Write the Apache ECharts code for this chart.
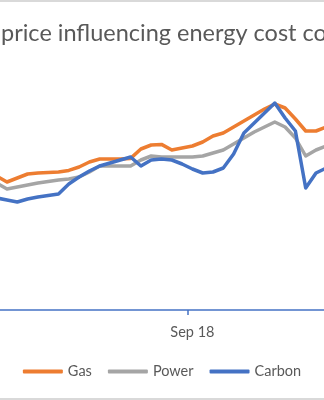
<!DOCTYPE html>
<html>
<head>
<meta charset="utf-8">
<script src="https://cdn.jsdelivr.net/npm/echarts@6/dist/echarts.min.js"></script>
<style>
  html, body { margin: 0; padding: 0; background: #fff; }
  #wrap { position: relative; width: 324px; height: 400px; overflow: hidden; }
  #chart { position: absolute; left: 0; top: 0; width: 324px; height: 400px; }
  .edge { position: absolute; left: 0; width: 324px; height: 2px; background: #d9d9d9; }
</style>
</head>
<body>
<div id="wrap">
  <div id="chart"></div>
  <div class="edge" style="top:0"></div>
  <div class="edge" style="bottom:0"></div>
</div>
<script>
// Weekly observations
const weeks = [
  '2018-04-23', '2018-04-30', '2018-05-07', '2018-05-14', '2018-05-21', '2018-05-28',
  '2018-06-04', '2018-06-11', '2018-06-18', '2018-06-25', '2018-07-02', '2018-07-09',
  '2018-07-16', '2018-07-23', '2018-07-30', '2018-08-06', '2018-08-13', '2018-08-20',
  '2018-08-27', '2018-09-03', '2018-09-10', '2018-09-17', '2018-09-24', '2018-10-01',
  '2018-10-08', '2018-10-15', '2018-10-22', '2018-10-29', '2018-11-05', '2018-11-12',
  '2018-11-19', '2018-11-26', '2018-12-03', '2018-12-10'
];

const gas = [
  67, 64, 66, 68, 68.5, 68.8, 69, 69.8, 71.5, 74, 75.5, 75.5,
  75.5, 75.8, 80.5, 82.5, 82.8, 80, 81, 82, 84, 87, 88.5, 91.5,
  94.5, 97.5, 100.5, 103, 101, 95.5, 89.5, 89.5, 91.5, 93
];

const power = [
  63.5, 60.5, 61.5, 62.5, 63.5, 64.3, 65, 65.5, 66.5, 69, 72, 72,
  72, 72, 75, 77, 76.5, 76.5, 76.5, 76.5, 77, 78.5, 80, 83,
  86, 89, 91.5, 94, 91.5, 86, 77, 80, 82, 82.5
];

const carbon = [
  56, 55, 54, 55.5, 56.5, 57.3, 58, 63, 66.5, 69.5, 72, 73.5,
  75, 76.5, 72, 75, 75.5, 75, 73, 70.5, 68.5, 69, 71, 78,
  88.5, 93.5, 98.5, 103.5, 96, 89.5, 61, 68.5, 71, 72
];

// Week that carries the axis label
const labelWeeks = ['2018-09-03'];
const monthNames = ['Jan', 'Feb', 'Mar', 'Apr', 'May', 'Jun', 'Jul', 'Aug', 'Sep', 'Oct', 'Nov', 'Dec'];

const titleText = 'Commodity price influencing energy cost components';
const titlePrefix = 'Commodity ';
const titleFont = 'Lato';

// Size the title font so the main phrase fills the visible width
const ctx = document.createElement('canvas').getContext('2d');
ctx.font = '20px ' + titleFont;
const phraseW = ctx.measureText('price influencing energy cost').width;
const titleSize = Math.round(20 * 296 / phraseW * 10) / 10;
ctx.font = titleSize + 'px ' + titleFont;
const prefixW = ctx.measureText(titlePrefix).width;

const labelIndex = weeks.indexOf(labelWeeks[0]);

const chart = echarts.init(document.getElementById('chart'), null, { renderer: 'canvas' });

const lineSeries = (name, data, color) => ({
  name: name,
  type: 'line',
  data: data,
  symbol: 'none',
  smooth: false,
  lineStyle: { color: color, width: 3.5, cap: 'round', join: 'round' },
  itemStyle: { color: color },
  emphasis: { disabled: true }
});

chart.setOption({
  animation: false,
  backgroundColor: 'transparent',
  title: {
    text: titleText,
    left: 1 - prefixW,
    top: 21,
    padding: 0,
    textStyle: { fontFamily: titleFont, fontSize: titleSize, fontWeight: 'normal', color: '#595959' }
  },
  legend: {
    data: ['Gas', 'Power', 'Carbon'],
    left: 'center',
    top: 359,
    icon: 'roundRect',
    itemWidth: 40,
    itemHeight: 4,
    itemGap: 16,
    textStyle: { fontFamily: 'Lato', fontSize: 14.5, color: '#595959' }
  },
  grid: {
    left: -8.45,
    right: -17.75,
    top: 60,
    bottom: 90,
    containLabel: false,
    outerBoundsMode: 'none'
  },
  xAxis: {
    type: 'category',
    data: weeks,
    boundaryGap: true,
    axisLine: { show: true, lineStyle: { color: '#4472C4', width: 1.5 } },
    axisTick: { show: true, length: 5, interval: labelIndex - 1, lineStyle: { color: '#4472C4', width: 1.5 } },
    axisLabel: {
      interval: (i) => i === labelIndex,
      margin: 15,
      fontFamily: 'Lato',
      fontSize: 14.5,
      color: '#595959',
      formatter: (v) => {
        const d = new Date(v + 'T00:00:00');
        return monthNames[d.getMonth()] + ' ' + String(d.getFullYear()).slice(2);
      }
    },
    splitLine: { show: false }
  },
  yAxis: {
    type: 'value',
    min: 0,
    max: 125,
    show: false,
    splitLine: { show: false }
  },
  series: [
    lineSeries('Gas', gas, '#ED7D31'),
    lineSeries('Power', power, '#A5A5A5'),
    lineSeries('Carbon', carbon, '#4472C4')
  ]
});
</script>
</body>
</html>
